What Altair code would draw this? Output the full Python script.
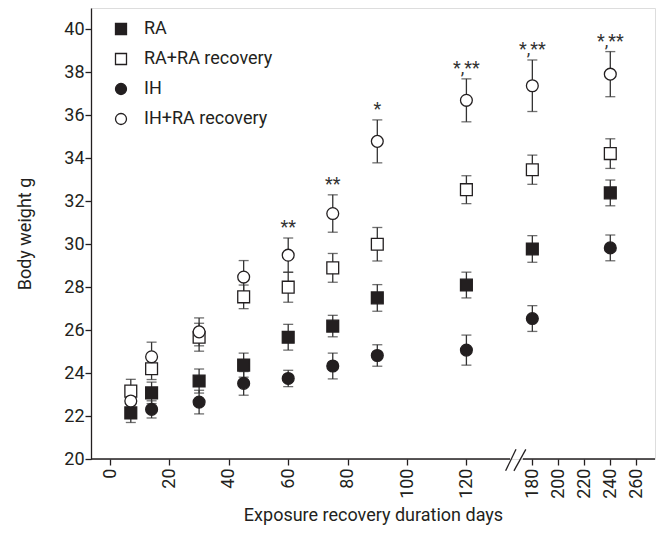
import altair as alt
import pandas as pd

# ---- data ----
DAYS = [7, 14, 30, 45, 60, 75, 90, 120, 180, 240]
SERIES = ["RA", "RA+RA recovery", "IH", "IH+RA recovery"]
RA_MEAN = [22.15, 23.08, 23.63, 24.37, 25.67, 26.19, 27.50, 28.10, 29.78, 32.39]
RA_SEM = [0.45, 0.50, 0.56, 0.56, 0.60, 0.50, 0.62, 0.60, 0.62, 0.60]
RARR_MEAN = [23.16, 24.20, 25.67, 27.55, 28.00, 28.90, 30.00, 32.54, 33.47, 34.22]
RARR_SEM = [0.55, 0.50, 0.65, 0.55, 0.70, 0.67, 0.78, 0.65, 0.68, 0.69]
IH_MEAN = [None, 22.31, 22.65, 23.52, 23.75, 24.33, 24.82, 25.07, 26.54, 29.83]
IH_SEM = [None, 0.40, 0.55, 0.55, 0.38, 0.60, 0.50, 0.70, 0.60, 0.60]
IHRR_MEAN = [22.70, 24.76, 25.92, 28.47, 29.49, 31.43, 34.79, 36.70, 37.38, 37.92]
IHRR_SEM = [0.40, 0.68, 0.65, 0.77, 0.80, 0.87, 1.00, 1.00, 1.20, 1.05]
SIG_DAYS = [60, 75, 90, 120, 180, 240]
SIG_LABELS = ["**", "**", "*", "*,**", "*,**", "*,**"]
X_TICKS_LEFT = [0, 20, 40, 60, 80, 100, 120]
X_TICKS_RIGHT = [180, 200, 220, 240, 260]
Y_TICKS = list(range(20, 41, 2))

# broken-axis mapping: days <= 130 linear, days >= 170 compressed
RIGHT_START = 142.2
RIGHT_K = 0.4375
X_MIN, X_MAX = -6.4, 183.5
Y_MIN, Y_MAX = 20, 41
AXIS_SEGMENTS = [(X_MIN, 134.7), (139.0, X_MAX)]
SLASHES = [(133.2, 19.45, 136.7, 20.45), (136.0, 19.45, 140.0, 20.45)]

INK = "#231f20"
FONT = "Roboto"


def pos(d):
    return d if d <= 130 else RIGHT_START + (d - 180) * RIGHT_K


rows = []
for name, means, sems in zip(SERIES, [RA_MEAN, RARR_MEAN, IH_MEAN, IHRR_MEAN],
                             [RA_SEM, RARR_SEM, IH_SEM, IHRR_SEM]):
    for d, m, s in zip(DAYS, means, sems):
        if m is None:
            continue
        rows.append({"series": name, "day": d, "mean": m, "lo": m - s, "hi": m + s})
df = pd.DataFrame(rows)

ihrr = df[df.series == "IH+RA recovery"].set_index("day")
sig = pd.DataFrame({"day": SIG_DAYS, "label": SIG_LABELS,
                    "top": [ihrr.loc[d, "hi"] for d in SIG_DAYS]})

seg_df = pd.DataFrame(AXIS_SEGMENTS, columns=["x0", "x1"])
slash_df = pd.DataFrame(SLASHES, columns=["x0", "y0", "x1", "y1"])

tick_vals = [pos(d) for d in X_TICKS_LEFT + X_TICKS_RIGHT]
pos_expr = f"datum.day <= 130 ? datum.day : {RIGHT_START} + (datum.day - 180) * {RIGHT_K}"
label_expr = (f"datum.value < 131 ? format(datum.value, 'd') : "
              f"format(180 + (datum.value - {RIGHT_START}) / {RIGHT_K}, '.0f')")

xscale = alt.Scale(domain=[X_MIN, X_MAX], nice=False, zero=False)
yscale = alt.Scale(domain=[Y_MIN, Y_MAX], nice=False, zero=False)

xaxis = alt.Axis(values=tick_vals, labelExpr=label_expr, labelAngle=-90, domain=False,
                 grid=False, tickSize=6, tickWidth=1.3, tickColor=INK,
                 labelFontSize=18, labelColor=INK, labelFont=FONT, labelPadding=3,
                 title="Exposure recovery duration days", titleFontSize=18,
                 titleFont=FONT, titleFontWeight="normal", titleColor=INK, titlePadding=8)
yaxis = alt.Axis(values=Y_TICKS, grid=False, domainColor=INK, domainWidth=1.3,
                 tickSize=6, tickWidth=1.3, tickColor=INK, labelFontSize=18,
                 labelColor=INK, labelFont=FONT, labelPadding=1,
                 title="Body weight g", titleFontSize=18, titleFont=FONT,
                 titleFontWeight="normal", titleColor=INK, titlePadding=29)

base = alt.Chart(df).transform_calculate(pos=pos_expr)

x_enc = alt.X("pos:Q", scale=xscale, axis=xaxis)

err_rule = base.mark_rule(color="#333333", strokeWidth=1.3).encode(
    x=x_enc, y=alt.Y("lo:Q", scale=yscale, axis=yaxis), y2="hi:Q")

caps = base.transform_fold(["lo", "hi"], as_=["end", "val"]).mark_tick(
    orient="horizontal", size=10, thickness=1.3, color="#333333").encode(
    x=alt.X("pos:Q", scale=xscale), y=alt.Y("val:Q", scale=yscale))


def legend():
    return alt.Legend(title=None, orient="none", legendX=21, legendY=12,
                      labelFontSize=18, labelFont=FONT, labelColor=INK,
                      symbolSize=121, symbolStrokeWidth=1.3, rowPadding=12,
                      labelOffset=14, padding=0)


points = base.mark_point(filled=True, size=140, strokeWidth=1.3, opacity=1).encode(
    x=alt.X("pos:Q", scale=xscale),
    y=alt.Y("mean:Q", scale=yscale),
    shape=alt.Shape("series:N", scale=alt.Scale(domain=SERIES,
                    range=["square", "square", "circle", "circle"]), legend=legend()),
    fill=alt.Fill("series:N", scale=alt.Scale(domain=SERIES,
                  range=[INK, "white", INK, "white"]), legend=legend()),
    stroke=alt.Stroke("series:N", scale=alt.Scale(domain=SERIES,
                      range=[INK, INK, INK, INK]), legend=legend()),
)

stars = alt.Chart(sig).transform_calculate(pos=pos_expr).mark_text(
    baseline="bottom", dy=-1, fontSize=18, font=FONT, color="#333333").encode(
    x=alt.X("pos:Q", scale=xscale), y=alt.Y("top:Q", scale=yscale), text="label:N")

axis_line = alt.Chart(seg_df).mark_rule(color=INK, strokeWidth=1.3).encode(
    x=alt.X("x0:Q", scale=xscale), x2="x1:Q", y=alt.datum(Y_MIN))

slash = alt.Chart(slash_df).mark_rule(color=INK, strokeWidth=1.3).encode(
    x=alt.X("x0:Q", scale=xscale), x2="x1:Q",
    y=alt.Y("y0:Q", scale=yscale), y2="y1:Q")

chart = alt.layer(err_rule, caps, points, stars, axis_line, slash).properties(
    width=564, height=451, padding={"left": 8, "top": 0, "right": 0, "bottom": 0}
).configure_view(stroke=None).configure(background="white")

chart.save("out.html", embed_options={"renderer": "svg", "actions": False})
